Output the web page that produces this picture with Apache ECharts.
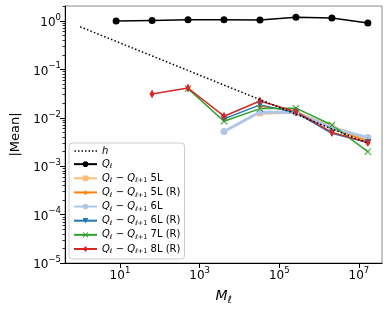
<!DOCTYPE html>
<html>
<head>
<meta charset="utf-8">
<script src="https://cdn.jsdelivr.net/npm/echarts@6/dist/echarts.min.js"></script>
<style>html,body{margin:0;padding:0;background:#fff}#c{width:389px;height:311px}</style>
</head>
<body>
<div id="c"></div>
<script>
// ---- data ----
const M = [1, 8, 64, 512, 4096, 32768, 262144, 2097152, 16777216];
const hVals = [0.76, 0.38, 0.19, 0.095, 0.0475, 0.0238, 0.0119, 0.0059, 0.003];
const Q = [null, 1.0, 1.03, 1.06, 1.06, 1.05, 1.19, 1.15, 0.91];
const d5L = [null, null, null, null, null, 0.0124, 0.013, 0.0065, 0.0036];
const d5LR = [null, null, null, null, null, 0.0175, 0.0135, 0.006, 0.0033];
const d6L = [null, null, null, null, 0.0052, 0.0132, 0.0128, 0.0062, 0.0039];
const d6LR = [null, null, null, null, 0.0095, 0.0185, 0.0128, 0.0048, 0.0031];
const d7LR = [null, null, null, 0.040, 0.0085, 0.0155, 0.0158, 0.0071, 0.0020];
const d8LR = [null, null, 0.031, 0.0413, 0.0108, 0.0222, 0.0134, 0.0050, 0.0031];
const xTicks = [1, 3, 5, 7];
const yTicks = [-5, -4, -3, -2, -1, 0];

function pts(vals) {
  const out = [];
  vals.forEach((v, i) => { if (v != null) out.push([Math.log10(M[i]), Math.log10(v)]); });
  return out;
}
const yMinor = [];
for (let n = -5; n <= 0; n++) for (let k = 2; k <= 9; k++) {
  const v = n + Math.log10(k);
  if (v <= 0.31) yMinor.push(v);
}
function pow10(v) {
  const e = Math.round(v);
  return '{b|10}{sup|' + (e < 0 ? '\u2212' + (-e) : e) + '}';
}
const tickRich = {
  b: { fontSize: 12, lineHeight: 16, fontFamily: 'DejaVu Sans', color: '#000', verticalAlign: 'bottom' },
  sup: { fontSize: 8.5, lineHeight: 9, fontFamily: 'DejaVu Sans', color: '#000', verticalAlign: 'top' }
};
const STAR = 'path://M50,0 L61,35 L98,35 L68,57 L79,91 L50,70 L21,91 L32,57 L2,35 L39,35 Z';
const XMARK = 'path://M0,1 L1,0 L5,4 L9,0 L10,1 L6,5 L10,9 L9,10 L5,6 L1,10 L0,9 L4,5 Z';
// dotted legend icon (tiny corner marks keep the 23x7 box unstretched)
let DOTS = 'path://M0,0 L0.01,0 L0.01,0.01 Z M23,7 L22.99,7 L22.99,6.99 Z';
for (let x = 0.5; x < 23; x += 3.6) DOTS += ' M' + x + ',2.8 h1.5 v1.5 h-1.5 Z';

const labels = {
  'h': '{i|h}',
  'Q': '{i|Q}{s|\u2113}',
  '5L': '{i|Q}{s|\u2113}{n| \u2212 }{i|Q}{s|\u2113+1}{n| 5L}',
  '5L (R)': '{i|Q}{s|\u2113}{n| \u2212 }{i|Q}{s|\u2113+1}{n| 5L (R)}',
  '6L': '{i|Q}{s|\u2113}{n| \u2212 }{i|Q}{s|\u2113+1}{n| 6L}',
  '6L (R)': '{i|Q}{s|\u2113}{n| \u2212 }{i|Q}{s|\u2113+1}{n| 6L (R)}',
  '7L (R)': '{i|Q}{s|\u2113}{n| \u2212 }{i|Q}{s|\u2113+1}{n| 7L (R)}',
  '8L (R)': '{i|Q}{s|\u2113}{n| \u2212 }{i|Q}{s|\u2113+1}{n| 8L (R)}'
};

function line(name, vals, color, symbol, size, lw, extra) {
  return Object.assign({
    name: name, type: 'line', data: pts(vals), symbol: symbol, symbolSize: size,
    showSymbol: true, animation: false, z: 3,
    lineStyle: { color: color, width: lw },
    itemStyle: { color: color }
  }, extra || {});
}

const series = [
  line('Q', Q, '#000', 'circle', 7, 1.5),
  line('5L', d5L, '#ffbb78', 'rect', 6, 3),
  line('5L (R)', d5LR, '#ff7f0e', STAR, 8, 1.5),
  line('6L', d6L, '#aec7e8', 'circle', 7, 3),
  line('6L (R)', d6LR, '#1f77b4', 'triangle', 7, 1.5, { symbolRotate: 180 }),
  line('7L (R)', d7LR, '#2ca02c', XMARK, 7, 1.5),
  line('8L (R)', d8LR, '#d62728', 'diamond', [5, 9], 1.5),
  { name: 'h', type: 'line', data: pts(hVals), symbol: 'none', animation: false, z: 6,
    lineStyle: { color: '#000', width: 1.5, type: [1.5, 2.2] }, itemStyle: { color: '#000' } }
];
const legendOrder = ['h', 'Q', '5L', '5L (R)', '6L', '6L (R)', '7L (R)', '8L (R)'];

const chart = echarts.init(document.getElementById('c'), null, { renderer: 'canvas' });
chart.setOption({
  backgroundColor: '#fff',
  animation: false,
  grid: { left: 65, right: 7, top: 6, bottom: 48, show: true, borderColor: '#888', borderWidth: 1 },
  xAxis: {
    type: 'value', min: -0.38, max: 7.58,
    name: '{i|M}{s|\u2113}', nameLocation: 'middle', nameGap: 24,
    nameTextStyle: { rich: {
      i: { fontSize: 14, fontStyle: 'italic', fontFamily: 'DejaVu Sans', color: '#000', lineHeight: 18, verticalAlign: 'middle' },
      s: { fontSize: 10, fontStyle: 'italic', fontFamily: 'DejaVu Sans', color: '#000', lineHeight: 10, verticalAlign: 'bottom', padding: [6, 0, 0, 0] }
    } },
    splitLine: { show: false },
    axisLine: { show: true, onZero: false, lineStyle: { color: '#000', width: 1 } },
    axisTick: { show: true, customValues: xTicks, length: 5, lineStyle: { color: '#000', width: 1 } },
    axisLabel: { customValues: xTicks, formatter: pow10, rich: tickRich, margin: 3 }
  },
  yAxis: [{
    type: 'value', min: -5, max: 0.31,
    name: '|Mean|', nameLocation: 'middle', nameGap: 43,
    nameTextStyle: { fontSize: 13, fontFamily: 'DejaVu Sans', color: '#000' },
    splitLine: { show: false },
    axisLine: { show: true, onZero: false, lineStyle: { color: '#000', width: 1 } },
    axisTick: { show: true, customValues: yTicks, length: 5, lineStyle: { color: '#000', width: 1 } },
    axisLabel: { customValues: yTicks, formatter: pow10, rich: tickRich, margin: 4 }
  }, {
    type: 'value', min: -5, max: 0.31, position: 'left', offset: 0,
    splitLine: { show: false },
    axisLine: { show: false, onZero: false },
    axisTick: { show: true, customValues: yMinor, length: 2.5, lineStyle: { color: '#000', width: 0.8 } },
    axisLabel: { show: false }
  }],
  legend: {
    orient: 'vertical', left: 69, top: 143,
    itemWidth: 23, itemHeight: 7, itemGap: 3.14,
    padding: [3, 4, 4, 4],
    backgroundColor: 'rgba(255,255,255,0.8)', borderColor: '#ccc', borderWidth: 1, borderRadius: 3,
    data: legendOrder.map(n => n === 'h' ? { name: n, icon: DOTS } : n),
    formatter: n => labels[n],
    textStyle: { rich: {
      i: { fontSize: 10, fontStyle: 'italic', fontFamily: 'DejaVu Sans', color: '#000', lineHeight: 12, verticalAlign: 'middle' },
      n: { fontSize: 10, fontFamily: 'DejaVu Sans', color: '#000', lineHeight: 12, verticalAlign: 'middle' },
      s: { fontSize: 6.5, fontFamily: 'DejaVu Sans', color: '#000', lineHeight: 6, verticalAlign: 'bottom', padding: [4, 0, 0, 0] }
    } }
  },
  series: series
});
</script>
</body>
</html>
